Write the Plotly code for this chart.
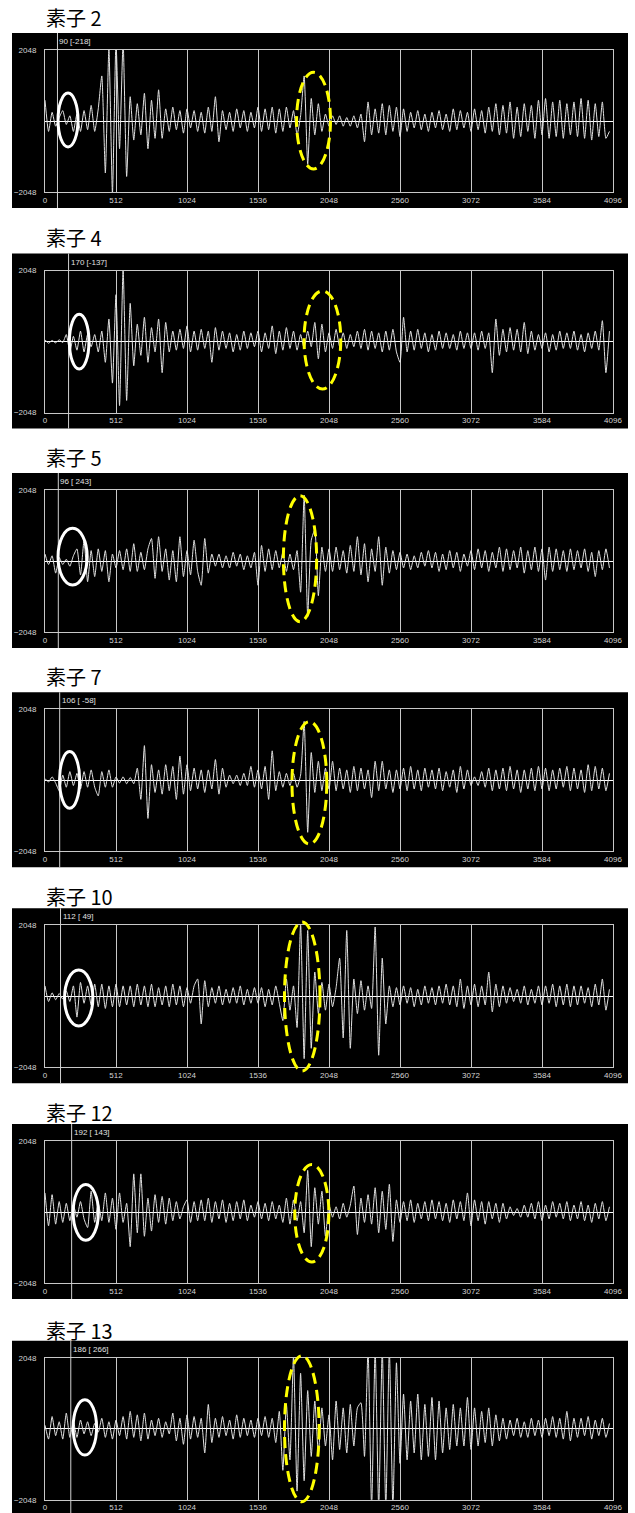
import plotly.graph_objects as go

W, H = 635, 1513

titles = ["素子 2", "素子 4", "素子 5", "素子 7", "素子 10", "素子 12", "素子 13"]
cursor_pos = [90, 170, 96, 106, 112, 192, 186]
cursor_val = ["-218", "-137", " 243", " -58", " 49", " 143", " 266"]
xtick_vals = [0, 512, 1024, 1536, 2048, 2560, 3072, 3584, 4096]
xtick_text = ["0", "512", "1024", "1536", "2048", "2560", "3072", "3584", "4096"]
ytick_vals = [-2048, 2048]
ytick_text = ["−2048", "2048"]
n_samples = 4096

wave_2 = [600, -300, 250, -150, 100, 300, -100, 150, -300, 200,
          -300, 300, -250, 450, -300, 350, 1300, -1500, 2100, -2100,
          2300, -800, 2300, -1600, 700, -550, 500, -400, 800, -800,
          600, -500, 900, -500, 350, -300, 400, -250, 300, -350,
          350, -200, 300, -300, 250, -350, 400, -300, 700, -600,
          300, -250, 250, -300, 350, -200, 300, -300, 250, -200,
          400, -300, 350, -250, 400, -350, 350, -300, 400, -200,
          300, -400, 150, 1300, -1250, 650, -400, 500, -300, 200,
          -150, 150, -100, 150, -150, 100, -150, 150, -200, 200,
          -600, 550, -400, 350, -350, 500, -400, 450, -300, 400,
          -450, 350, -300, 250, -200, 300, -250, 200, -300, 250,
          -200, 300, -250, 200, -300, 350, -250, 300, -200, 250,
          -300, 350, -250, 300, -350, 400, -300, 500, -400, 450,
          -350, 550, -500, 400, -450, 500, -300, 450, -500, 600,
          -400, 650, -500, 550, -450, 600, -500, 500, -400, 550,
          -450, 650, -500, 600, -550, 500, -450, 550, -500, -300]

wave_4 = [50, -50, 30, -40, 50, -30, 200, -300, 150, -250,
          300, -300, 200, -150, 200, -300, 300, -600, 650, -1200,
          1350, -1850, 2100, -1700, 1100, -700, 500, -400, 700, -600,
          400, -300, 650, -900, 550, -300, 300, -250, 350, -200,
          450, -300, 300, -250, 350, -200, 300, -600, 400, -250,
          300, -200, 250, -300, 200, -250, 300, -200, 250, -150,
          300, -300, 250, -200, 450, -350, 300, -250, 400, -200,
          300, -250, 200, -200, 300, -150, 550, -500, 500, -300,
          250, -200, 350, -150, 250, -200, 200, -150, 300, -200,
          350, -250, 300, -200, 250, -300, 300, -250, 350, -300,
          -600, 700, -300, 300, -250, 350, -200, 250, -300, 200,
          -250, 300, -200, 250, -200, 200, -250, 300, -200, 250,
          -200, 250, -250, 300, -200, 250, -900, 650, -400, 350,
          -300, 400, -250, 350, -300, 550, -350, 300, -250, 200,
          -200, 250, -300, 200, -250, 300, -200, 250, -200, 300,
          -250, 200, -300, 250, -200, 300, -250, 600, -900, 300]

wave_5 = [200, -100, 150, -350, 100, -100, 50, -150, 150, 350,
          -400, 600, -600, 300, -450, 350, -300, 300, -600, 200,
          -200, 300, -250, 350, -300, 500, -300, 250, -250, 350,
          650, -500, 700, -300, 350, -550, 300, -600, 700, -450,
          300, -400, 600, -300, -700, 650, -350, 200, -150, 200,
          -200, 150, -200, 250, -150, 200, -250, 150, -200, 250,
          -700, 450, -300, 350, -250, 300, -200, 250, -300, 200,
          -250, 300, -900, 1900, -1600, 600, 900, -1000, 400, -300,
          350, -300, 400, -250, 300, -350, 450, -300, 700, -400,
          500, -600, 350, -300, 700, -700, 400, -350, 300, -250,
          250, -200, 200, -250, 150, -200, 250, -150, 300, -200,
          250, -300, 200, -250, 300, -200, 250, -300, 200, -150,
          300, -250, 350, -200, 300, -300, 250, -200, 400, -300,
          350, -250, 300, -200, 400, -350, 300, -250, 400, -300,
          350, -550, 400, -300, 350, -250, 300, -300, 350, -250,
          300, -200, 350, -300, 250, -450, 300, -250, 350, -200]

wave_7 = [50, -50, 100, -80, -300, 150, -200, 250, -150, 200,
          -250, 250, -200, 300, -200, -450, 250, -200, 300, -200,
          100, -80, 100, -100, 80, -100, 350, -550, 1000, -1100,
          450, -350, 300, -400, 450, -300, 400, -550, 700, -400,
          450, -300, 350, -250, 300, -350, 300, -250, 600, -400,
          350, -200, 150, -100, 150, -150, 200, -150, 400, -200,
          300, -250, 400, -550, 850, -300, 250, -200, 200, -150,
          200, -200, 150, 1700, -1500, 800, -350, 550, -300, 350,
          -250, 550, -300, 350, -250, 300, -350, 400, -300, 350,
          -250, 300, -500, 550, -300, 550, -250, 300, -350, 300,
          -250, 350, -300, 400, -250, 300, -300, 350, -200, 300,
          -250, 350, -300, 250, -200, 300, -350, 400, -250, 300,
          -150, 100, -150, 250, -200, 350, -300, 300, -250, 350,
          -300, 400, -250, 300, -350, 300, -250, 350, -300, 400,
          -250, 350, -300, 300, -250, 350, -200, 400, -300, 350,
          -250, 300, -350, 450, -300, 400, -250, 350, -300, 200]

wave_10 = [300, -150, 100, -100, 80, -80, 150, -150, 300, -600,
           400, -200, 300, -250, 350, -300, 350, -350, 300, -300,
           350, -300, 300, -250, 300, -300, 350, -250, 300, -300,
           350, -300, 250, -250, 300, -300, 350, -250, 300, -300,
           250, -200, 300, 500, -800, 450, -300, 250, -200, 300,
           -250, 200, -200, 250, -200, 300, -250, 200, -200, 250,
           -200, 250, -300, 200, -250, 300, -200, -700, 500, -400,
           300, -900, 2100, -1800, 1900, -1500, 700, -500, 400, -400,
           350, -300, 250, 1100, -1200, 1900, -1500, 500, -500, 450,
           -400, 300, -350, 2000, -1700, 1100, -800, 300, -300, 250,
           -250, 300, -200, 250, -300, 200, -250, 300, -200, 250,
           -250, 300, -200, 350, -250, 300, -300, 500, -350, 300,
           -250, 350, -300, 300, -250, 700, -450, 350, -300, 300,
           -200, 250, -150, 200, -200, 300, -250, 200, -200, 300,
           -250, 300, -200, 350, -300, 300, -250, 350, -300, 300,
           -250, 300, -200, 250, -300, 350, -250, 500, -400, 200]

wave_12 = [550, -400, 500, -350, 300, -300, 250, -250, 200, -150,
           300, -200, -450, 600, -300, 250, -250, 550, -300, 400,
           -500, 550, -300, 250, -1000, 1100, -600, 1100, -700, 400,
           -550, 500, -300, 450, -350, 400, -250, 300, -200, 150,
           350, -300, 300, -250, 350, -250, 400, -300, 300, -200,
           350, -300, 250, -250, 300, -200, 350, -250, 200, -150,
           300, -200, 250, -250, 300, -200, 200, -300, 400, -350,
           350, -250, 300, -600, 1200, -1000, 700, -350, 600, -700,
           200, -150, 150, -200, 250, -150, 200, 750, -650, 400,
           -300, 500, -350, 700, -600, 600, -500, 800, -850, 350,
           -300, 300, -250, 350, -300, 250, -200, 300, -250, 350,
           -200, 300, -250, 250, -300, 350, -200, 300, -250, 550,
           -400, 350, -250, 300, -350, 300, -200, 250, -300, 250,
           -200, 150, -100, 100, -150, 200, -150, 250, -200, 300,
           -250, 200, -200, 300, -150, 250, -200, 300, -250, 200,
           -200, 300, -250, 200, -300, 250, -200, 300, -250, 150]

wave_13 = [100, -300, 350, -200, 200, -300, 450, -250, 200, -250,
           250, -150, 200, -200, 150, -100, 300, -250, 200, -300,
           250, -200, 350, -300, 500, -250, 400, -350, 450, -300,
           250, -200, 300, -250, 200, -150, 450, -350, 300, -450,
           400, -300, 350, -250, 300, -700, 700, -400, 300, -250,
           350, -200, 250, -300, 400, -250, 300, -200, 250, -250,
           300, -200, 350, -250, 300, -400, 500, -1200, 700, -900,
           2100, -1800, 1600, -1500, 1100, -800, 800, -700, 600, -500,
           400, -900, 800, -600, 600, -700, 700, -500, 600, 750,
           -800, 2300, -2300, 2300, -2300, 2300, -2300, 2300, -2300, 1900,
           -1000, 1000, -900, 800, -700, 1000, -900, 700, -800, 900,
           -900, 800, -700, 600, -600, 700, -500, 600, -500, 900,
           -600, 600, -500, 500, -400, 600, -500, 400, -350, 300,
           -300, 250, -200, 300, -250, 200, -250, 300, -200, 250,
           -250, 300, -200, 350, -250, 300, -300, 500, -350, 300,
           -250, 300, -200, 350, -300, 250, -200, 300, -250, 150]

waves = [wave_2, wave_4, wave_5, wave_7, wave_10, wave_12, wave_13]

# annotation ellipses (data x, fraction of plot height)
white_ell = [(94, 238, 0.317, 0.697), (176, 317, 0.306, 0.692), (94, 304, 0.331, 0.730),
             (105, 250, 0.303, 0.702), (141, 345, 0.291, 0.685), (203, 385, 0.301, 0.693),
             (203, 372, 0.314, 0.704)]
yellow_ell = [(1814, 2059, 0.162, 0.843), (1868, 2133, 0.165, 0.856), (1719, 1959, 0.073, 0.960),
              (1781, 2032, 0.051, 0.913), (1727, 1983, -0.026, 1.023), (1801, 2047, 0.148, 0.834),
              (1727, 1977, -0.014, 1.014)]

# layout geometry (pixels)
plot_top = [50, 270.5, 490, 709.3, 925.3, 1141, 1357.7]
plot_h = 142
title_y = [18, 238, 457, 676, 896, 1112, 1330]
px_left, px_right = 45, 613
blk_left, blk_right = 12, 628


def fy(py):
    return 1 - py / H


def fx(px):
    return px / W


fig = go.Figure()
shapes = []
annotations = []
line_col = "#c8c8c8"
lab_col = "#d4d4d4"

for k in range(7):
    ax = "" if k == 0 else str(k + 1)
    xname, yname = "x" + ax, "y" + ax
    vals = waves[k]
    step = n_samples / len(vals)
    xs = [i * step for i in range(len(vals))]
    fig.add_trace(go.Scatter(x=xs, y=vals, mode="lines", xaxis=xname, yaxis=yname,
                             line=dict(color="#e2e2e2", width=1, shape="spline", smoothing=0.5),
                             hoverinfo="skip", showlegend=False))
    top = plot_top[k]
    bot = top + plot_h
    fig.layout["xaxis" + ax] = dict(
        domain=[fx(px_left), fx(px_right)], anchor=yname, range=[0, n_samples],
        tickmode="array", tickvals=xtick_vals, ticktext=xtick_text, automargin=False,
        showgrid=True, gridcolor=line_col, gridwidth=1, zeroline=False,
        showline=True, mirror=True, linecolor=line_col, linewidth=1,
        ticks="", tickfont=dict(family="Liberation Sans", size=8, color=lab_col),
        fixedrange=True)
    fig.layout["yaxis" + ax] = dict(
        domain=[fy(bot), fy(top)], anchor=xname, range=[-2048, 2048],
        tickmode="array", tickvals=ytick_vals, ticktext=ytick_text, automargin=False,
        showgrid=False, zeroline=True, zerolinecolor="#ffffff", zerolinewidth=1,
        showline=True, mirror=True, linecolor=line_col, linewidth=1,
        ticks="", ticklabelstandoff=6,
        tickfont=dict(family="Liberation Sans", size=8, color=lab_col),
        fixedrange=True)
    # black panel background
    shapes.append(dict(type="rect", xref="paper", yref="paper",
                       x0=fx(blk_left), x1=fx(blk_right), y0=fy(bot + 16), y1=fy(top - 17),
                       fillcolor="black", line=dict(width=0), layer="below"))
    # cursor line
    shapes.append(dict(type="line", xref=xname, yref=yname + " domain",
                       x0=cursor_pos[k], x1=cursor_pos[k], y0=-16 / plot_h, y1=1 + 17 / plot_h,
                       line=dict(color="#d0d0d0", width=1)))
    # ellipses
    wx0, wx1, wy0, wy1 = white_ell[k]
    shapes.append(dict(type="circle", xref=xname, yref=yname + " domain",
                       x0=wx0, x1=wx1, y0=wy0, y1=wy1,
                       line=dict(color="white", width=3)))
    yx0, yx1, yy0, yy1 = yellow_ell[k]
    shapes.append(dict(type="circle", xref=xname, yref=yname + " domain",
                       x0=yx0, x1=yx1, y0=yy0, y1=yy1,
                       line=dict(color="#ffff00", width=3, dash="11px,6px")))
    # cursor label
    annotations.append(dict(xref=xname, yref=yname + " domain", x=cursor_pos[k], y=1 + 8.5 / plot_h,
                            text=f"{cursor_pos[k]} [{cursor_val[k]}]", showarrow=False,
                            xanchor="left", yanchor="middle", xshift=0,
                            font=dict(family="Liberation Sans", size=8, color="#e0e0e0")))
    # panel title
    annotations.append(dict(xref="paper", yref="paper", x=fx(44), y=fy(title_y[k]),
                            text=titles[k], showarrow=False, xanchor="left", yanchor="middle",
                            font=dict(family="Noto Sans CJK JP", size=20, color="black")))

fig.update_layout(width=W, height=H, autosize=False,
                  margin=dict(l=0, r=0, t=0, b=0, pad=0, autoexpand=False),
                  paper_bgcolor="white", plot_bgcolor="black",
                  shapes=shapes, annotations=annotations, showlegend=False)

fig.write_html("out.html", config={"displayModeBar": False})
